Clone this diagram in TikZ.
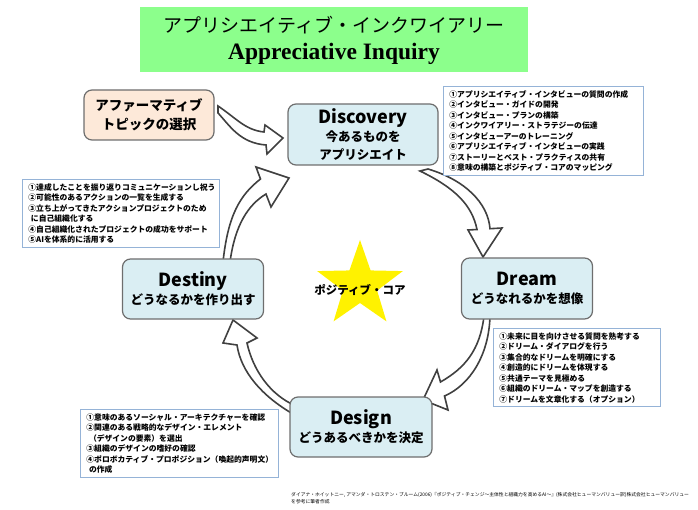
\documentclass[tikz,border=0pt]{standalone}
\usepackage{fontspec}
\setmainfont{Noto Sans CJK JP}
\newfontfamily\titleserif{Liberation Serif}
\usetikzlibrary{shapes.geometric}

\definecolor{titlegreen}{RGB}{140,255,140}
\definecolor{stageblue}{RGB}{218,238,243}
\definecolor{stagepeach}{RGB}{253,233,217}
\definecolor{stageline}{RGB}{110,110,110}
\definecolor{listline}{RGB}{149,179,215}
\definecolor{arrowline}{RGB}{64,64,64}

\begin{document}
\begin{tikzpicture}[x=1pt,y=-1pt]
\tikzset{
  stagebox/.style={rounded corners=8pt,draw=stageline,line width=1.2pt,fill=stageblue,align=center,font=\bfseries\fontsize{12.5}{18}\selectfont,inner sep=0pt},
  listbox/.style={draw=listline,fill=white,line width=0.8pt,anchor=north west,align=left,inner xsep=6pt,inner ysep=4pt,font=\bfseries\fontsize{7.8}{10.5}\selectfont},
  blockarrow/.style={draw=arrowline,fill=white,line width=1.6pt,line join=miter}
}
\useasboundingbox (0,0) rectangle (698,510);

% title
\node[fill=titlegreen,minimum width=388pt,minimum height=65pt,align=center,inner sep=0pt,font=\fontsize{19}{27}\selectfont] (title) at (334,40)
  {アプリシエイティブ・インクワイアリー\\
   {\titleserif\bfseries\fontsize{23.5}{24}\selectfont Appreciative Inquiry}};

% curved arrows (drawn under the boxes)
\draw[blockarrow] (218,106) .. controls (236,118) and (245,130) .. (264,132)
  -- (265,125) -- (283,138) -- (267,154) -- (266,145)
  .. controls (240,143) and (230,126) .. (218,113) -- cycle;
\draw[blockarrow] (420,171) .. controls (455,188) and (472,205) .. (477,229.5)
  -- (468,230) -- (483,257) -- (502,228) -- (490,228.7)
  .. controls (488,203) and (465,180) .. (428,169) -- cycle;
\draw[blockarrow] (484,316) .. controls (480,350) and (465,368) .. (440.5,382)
  -- (437,370) -- (423,400) -- (448,410) -- (444.5,396)
  .. controls (470,385) and (489,355) .. (490,316) -- cycle;
\draw[blockarrow] (293,414) .. controls (262,396) and (241,372) .. (237,345)
  -- (223,343) -- (233,320) -- (257,338) -- (247,343)
  .. controls (253,370) and (270,395) .. (296,406) -- cycle;
\draw[blockarrow] (223,262) .. controls (228,215) and (240,195) .. (260.5,179)
  -- (256,167) -- (289,178) -- (271,207) -- (266,194)
  .. controls (248,205) and (235,225) .. (230,262) -- cycle;

% stages
\node[stagebox,fill=stagepeach,minimum width=130pt,minimum height=50pt,font=\bfseries\fontsize{13.5}{19}\selectfont] (affirm) at (149,115)
  {アファーマティブ\\トピックの選択};
\node[stagebox,minimum width=150pt,minimum height=61pt] (disc) at (363,134.5)
  {{\fontsize{18}{20}\selectfont Discovery}\\今あるものを\\アプリシエイト};
\node[stagebox,minimum width=131pt,minimum height=61pt] (dream) at (527,288.5)
  {{\fontsize{18}{22}\selectfont Dream}\\どうなれるかを想像};
\node[stagebox,minimum width=142pt,minimum height=60pt] (design) at (361,427)
  {{\fontsize{18}{22}\selectfont Design}\\どうあるべきかを決定};
\node[stagebox,minimum width=141pt,minimum height=60pt] (dest) at (193,289)
  {{\fontsize{18}{22}\selectfont Destiny}\\どうなるかを作り出す};

% positive core
\node[star,star points=5,star point ratio=2.5,fill=yellow,minimum size=90pt,inner sep=0pt] (core) at (360,285) {};
\node[font=\bfseries\fontsize{11.5}{13}\selectfont] (corelabel) at (360,290) {ポジティブ・コア};

% lists
\node[listbox,text width=188pt] (disclist) at (443,86)
  {①アプリシエイティブ・インタビューの質問の作成\\
   ②インタビュー・ガイドの開発\\
   ③インタビュー・プランの構築\\
   ④インクワイアリー・ストラテジーの伝達\\
   ⑤インタビューアーのトレーニング\\
   ⑥アプリシエイティブ・インタビューの実践\\
   ⑦ストーリーとベスト・プラクティスの共有\\
   ⑧意味の構築とポジティブ・コアのマッピング};
\node[listbox,text width=185pt] (destlist) at (22,179)
  {①達成したことを振り返りコミュニケーションし祝う\\
   ②可能性のあるアクションの一覧を生成する\\
   ③立ち上がってきたアクションプロジェクトのため\\
   \ に自己組織化する\\
   ④自己組織化されたプロジェクトの成功をサポート\\
   ⑤AIを体系的に活用する};
\node[listbox,text width=155pt] (dreamlist) at (493,328)
  {①未来に目を向けさせる質問を熟考する\\
   ②ドリーム・ダイアログを行う\\
   ③集合的なドリームを明確にする\\
   ④創造的にドリームを体現する\\
   ⑤共通テーマを見極める\\
   ⑥組織のドリーム・マップを創造する\\
   ⑦ドリームを文章化する（オプション）};
\node[listbox,text width=186pt] (designlist) at (80,409)
  {①意味のあるソーシャル・アーキテクチャーを確認\\
   ②関連のある戦略的なデザイン・エレメント\\
   \ （デザインの要素）を選出\\
   ③組織のデザインの嗜好の確認\\
   ④ポロボカティブ・プロポジション（喚起的声明文）\\
   \ の作成};

% source
\node[anchor=north west,align=left,inner sep=0pt,font=\fontsize{4.8}{7}\selectfont] (source) at (291,492)
  {ダイアナ・ホイットニー, アマンダ・トロステン・ブルーム(2006)『ポジティブ・チェンジ～主体性と組織力を高めるAI～』(株式会社ヒューマンバリュー訳)株式会社ヒューマンバリュー\\
   を参考に筆者作成};
\end{tikzpicture}
\end{document}
